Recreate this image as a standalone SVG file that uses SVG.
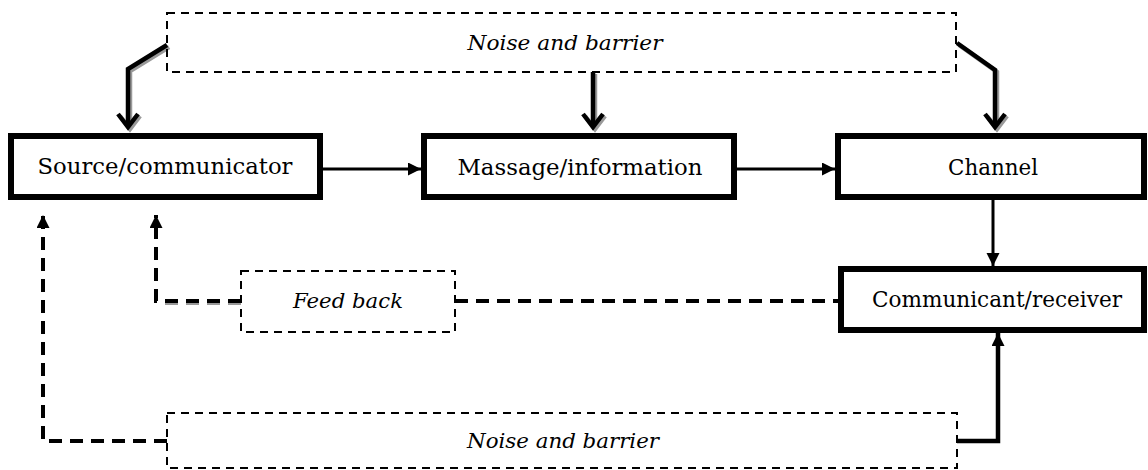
<svg xmlns="http://www.w3.org/2000/svg" width="1148" height="470" viewBox="0 0 1148 470">
<style>
.box{fill:#fff;stroke:#000;stroke-width:6}
.noise{fill:none;stroke:#000;stroke-width:2;stroke-dasharray:8 6}
.lbl{font-family:"DejaVu Serif","Liberation Serif",serif;font-size:22px;fill:#000;text-anchor:middle}
.it{font-family:"DejaVu Serif","Liberation Serif",serif;font-size:21px;font-style:italic;fill:#000;text-anchor:middle}
.thick{fill:none;stroke:#000;stroke-width:4.5;stroke-linejoin:miter}
.shadow{fill:none;stroke:#999;stroke-width:4.5}
.solid{fill:none;stroke:#000;stroke-width:3}
.dash{fill:none;stroke:#000;stroke-width:4;stroke-dasharray:13 8}
.dshadow{fill:none;stroke:#999;stroke-width:4;stroke-dasharray:13 8}
</style>
<defs>
<marker id="tri" markerUnits="userSpaceOnUse" markerWidth="14" markerHeight="14" refX="13" refY="6.5" orient="auto" viewBox="0 0 14 14">
<path d="M0,0 L13,6.5 L0,13 z" fill="#000"/>
</marker>
</defs>

<g id="connectors">
<path class="shadow" d="M169,47 L130,71 L130,128"/>
<path class="shadow" d="M120,116 L130,129 L140,116"/>
<path class="shadow" d="M595,74 L595,128"/>
<path class="shadow" d="M585,116 L595,129 L605,116"/>
<path class="shadow" d="M959,45 L997,72 L997,128"/>
<path class="shadow" d="M987,116 L997,129 L1007,116"/>
<path class="thick" d="M167,45 L128,69 L128,126"/>
<path class="thick" d="M118,114 L128,127 L138,114"/>
<path class="thick" d="M593,72 L593,126"/>
<path class="thick" d="M583,114 L593,127 L603,114"/>
<path class="thick" d="M957,43 L995,70 L995,126"/>
<path class="thick" d="M985,114 L995,127 L1005,114"/>
<path class="solid" d="M323,169 L421,169" marker-end="url(#tri)"/>
<path class="solid" d="M737,169 L835,169" marker-end="url(#tri)"/>
<path class="solid" d="M993,200 L993,266" marker-end="url(#tri)"/>
<path class="thick" d="M957,441 L998,441 L998,333" marker-end="url(#tri)"/>
<path class="dash" d="M455,301 L838,301"/>
<path class="dshadow" d="M241,303 L158,303"/>
<path class="dash" d="M241,301 L156,301 L156,215" marker-end="url(#tri)"/>
<path class="dash" d="M167,441 L43,441 L43,215" marker-end="url(#tri)"/>
</g>

<g id="noise-top">
<rect class="noise" x="167" y="13" width="789" height="59"/>
<text class="it" x="565" y="50" textLength="195" lengthAdjust="spacingAndGlyphs">Noise and barrier</text>
</g>

<g id="source">
<rect class="box" x="11" y="136" width="309" height="61"/>
<text class="lbl" x="165" y="174" textLength="255" lengthAdjust="spacingAndGlyphs">Source/communicator</text>
</g>

<g id="message">
<rect class="box" x="424" y="136" width="310" height="61"/>
<text class="lbl" x="580" y="175" textLength="245" lengthAdjust="spacingAndGlyphs">Massage/information</text>
</g>

<g id="channel">
<rect class="box" x="838" y="136" width="306" height="61"/>
<text class="lbl" x="993" y="175" textLength="90" lengthAdjust="spacingAndGlyphs">Channel</text>
</g>

<g id="receiver">
<rect class="box" x="841" y="269" width="303" height="61"/>
<text class="lbl" x="997" y="307" textLength="250" lengthAdjust="spacingAndGlyphs">Communicant/receiver</text>
</g>

<g id="feedback">
<rect class="noise" x="241" y="271" width="214" height="61"/>
<text class="it" x="348" y="308" textLength="110" lengthAdjust="spacingAndGlyphs">Feed back</text>
</g>

<g id="noise-bottom">
<rect class="noise" x="167" y="413" width="790" height="55"/>
<text class="it" x="563" y="448" textLength="192" lengthAdjust="spacingAndGlyphs">Noise and barrier</text>
</g>
</svg>
